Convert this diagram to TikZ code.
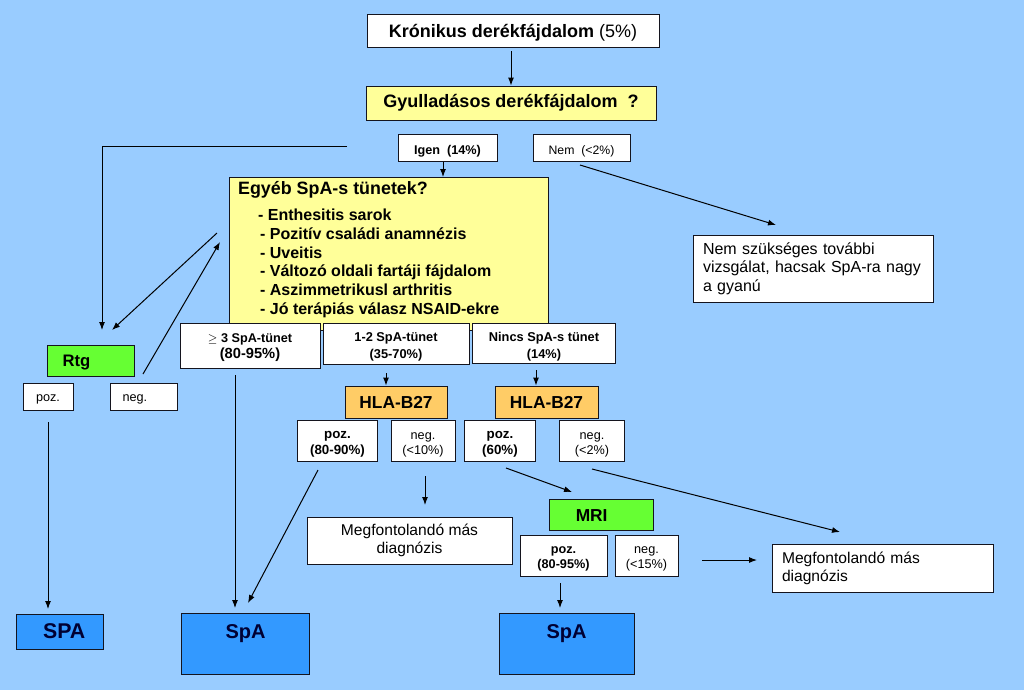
\documentclass[tikz,border=0pt]{standalone}
\usepackage{fontspec}
\setmainfont{Liberation Sans}
\usetikzlibrary{arrows.meta}
\definecolor{bgblue}{RGB}{153,204,255}
\definecolor{paleyellow}{RGB}{255,255,153}
\definecolor{hlaorange}{RGB}{255,204,102}
\definecolor{mrigreen}{RGB}{102,255,51}
\definecolor{spablue}{RGB}{51,153,255}
\definecolor{navy}{RGB}{0,0,51}
\definecolor{edge}{RGB}{20,20,30}
\tikzset{
  box/.style={draw=edge, line width=0.7pt, fill=white, inner sep=1pt, align=center},
  yel/.style={box, fill=paleyellow},
  ora/.style={box, fill=hlaorange},
  grn/.style={box, fill=mrigreen},
  blu/.style={box, fill=spablue, text=navy},
  arr/.style={draw=black, line width=0.75pt, -{Latex[length=6pt,width=4.5pt]}},
  spalbl/.style={anchor=north, inner sep=0pt, yshift=-9pt, text=navy, font=\fontsize{15pt}{17pt}\selectfont\bfseries},
  hrow/.style={text height=21pt, text depth=0pt, font=\fontsize{9.5pt}{11.25pt}\selectfont}
}
\begin{document}
\begin{tikzpicture}[x=0.75pt,y=-0.75pt]
\fill[bgblue] (0,0) rectangle (1024,690);
\useasboundingbox (0,0) rectangle (1024,690);

% top
\node[box, minimum width=219pt, minimum height=24.75pt, text height=9.8pt, text depth=0pt, font=\fontsize{13.5pt}{15pt}\selectfont] (kron) at (513,30.5) {\textbf{Krónikus derékfájdalom} (5\%)};
\node[yel, minimum width=217.5pt, minimum height=25.5pt, font=\fontsize{13.5pt}{15pt}\selectfont\bfseries] (gyul) at (511,103) {Gyulladásos derékfájdalom \ ?};
\node[box, minimum width=74.25pt, minimum height=20.25pt, text height=9.8pt, text depth=0pt, font=\fontsize{9.5pt}{10pt}\selectfont\bfseries] (igen) at (447.5,147.5) {Igen \ (14\%)};
\node[box, minimum width=72.75pt, minimum height=20.25pt, text height=9.8pt, text depth=0pt, font=\fontsize{9.2pt}{10pt}\selectfont] (nem) at (581.5,147.5) {Nem \ (<2\%)};

% big yellow box
\node[yel, anchor=north west, inner sep=0pt, align=left] (egyeb) at (229,177) {%
\begin{minipage}[c][115pt][t]{239.25pt}\raggedright
\vspace*{2.75pt}\hspace*{6.5pt}{\fontsize{13.4pt}{15pt}\selectfont\bfseries Egyéb SpA-s tünetek?}\par
\vspace{5.6pt}
\fontsize{12pt}{14.1pt}\selectfont\bfseries
\hspace*{21.5pt}- Enthesitis sarok\par
\hspace*{23pt}- Pozitív családi anamnézis\par
\hspace*{23pt}- Uveitis\par
\hspace*{23pt}- Változó oldali fartáji fájdalom\par
\hspace*{23pt}- Aszimmetrikusl arthritis\par
\hspace*{23pt}- Jó terápiás válasz NSAID-ekre\par
\end{minipage}};

\node[box, minimum height=50.25pt, inner xsep=7.5pt, text width=165pt, align=left, font=\fontsize{12pt}{13.9pt}\selectfont] (nemsz) at (813,268.5) {Nem szükséges további\\vizsgálat, hacsak SpA-ra nagy\\a gyanú};

% left branch
\node[grn, minimum width=65.25pt, minimum height=23.25pt, text height=9pt, text depth=0pt, font=\fontsize{12.5pt}{14pt}\selectfont\bfseries] (rtg) at (90.5,360.5) {Rtg\hspace*{21pt}};
\node[box, minimum width=37.5pt, minimum height=20.25pt, text height=7.5pt, text depth=0pt, font=\fontsize{9.5pt}{10pt}\selectfont] (rpoz) at (48,396.5) {poz.};
\node[box, minimum width=50.25pt, minimum height=20.25pt, text height=7.5pt, text depth=0pt, font=\fontsize{9.5pt}{10pt}\selectfont] (rneg) at (143.5,396.5) {neg.\hspace*{13pt}};
\node[blu, minimum width=65.25pt, minimum height=26.25pt, font=\fontsize{16pt}{17pt}\selectfont\bfseries] (spa1) at (59.5,631.5) {\hspace*{7pt}SPA};

% symptom count boxes
\node[box, minimum width=105pt, minimum height=33.75pt, text height=19.5pt, text depth=0pt, font=\bfseries] (t3) at (250,345.5) {{\fontsize{9.5pt}{13.1pt}\selectfont$\geq$ 3 SpA-tünet}\\{\fontsize{11pt}{13.1pt}\selectfont(80-95\%)}};
\node[box, minimum width=109.5pt, minimum height=30.75pt, text height=22.5pt, text depth=0pt, font=\fontsize{9.6pt}{13.1pt}\selectfont\bfseries] (t12) at (396,343.5) {1-2 SpA-tünet\\(35-70\%)};
\node[box, minimum width=107.25pt, minimum height=30pt, text height=23.25pt, text depth=0pt, font=\fontsize{9.6pt}{13.1pt}\selectfont\bfseries] (t0) at (544,343) {Nincs SpA-s tünet\\(14\%)};

% HLA
\node[ora, minimum width=76.5pt, minimum height=24pt, font=\fontsize{13pt}{15pt}\selectfont\bfseries] (hla1) at (396,402) {HLA-B27};
\node[ora, minimum width=77.25pt, minimum height=24pt, font=\fontsize{13pt}{15pt}\selectfont\bfseries] (hla2) at (546.5,402) {HLA-B27};
\node[box, minimum width=60pt, minimum height=30.75pt, hrow, font=\bfseries] (h1poz) at (337.5,440.5) {poz.\\(80-90\%)};
\node[box, minimum width=48pt, minimum height=30.75pt, hrow] (h1neg) at (423,440.5) {neg.\\(<10\%)};
\node[box, minimum width=53.25pt, minimum height=30.75pt, hrow, font=\bfseries] (h2poz) at (500,440.5) {poz.\\(60\%)};
\node[box, minimum width=48.75pt, minimum height=30.75pt, hrow] (h2neg) at (592,440.5) {neg.\\(<2\%)};

\node[box, minimum width=153.75pt, minimum height=35.25pt, font=\fontsize{11.7pt}{13.5pt}\selectfont] (meg1) at (409.5,540.5) {Megfontolandó más\\diagnózis};

% MRI
\node[grn, minimum width=78pt, minimum height=23.25pt, text height=11.2pt, text depth=0pt, font=\fontsize{13pt}{14pt}\selectfont\bfseries] (mri) at (601,514.5) {MRI\hspace*{14pt}};
\node[box, minimum width=65.25pt, minimum height=30.75pt, text height=18.8pt, text depth=0pt, font=\fontsize{9.5pt}{11.25pt}\selectfont\bfseries] (mpoz) at (563.5,556) {poz.\\(80-95\%)};
\node[box, minimum width=47.25pt, minimum height=30.75pt, text height=18.8pt, text depth=0pt, font=\fontsize{9.5pt}{11.25pt}\selectfont] (mneg) at (646.5,556) {neg.\\(<15\%)};
\node[box, minimum height=36pt, inner xsep=7.5pt, text width=150.75pt, align=left, font=\fontsize{11.7pt}{13.5pt}\selectfont] (meg2) at (882.5,568) {Megfontolandó más\\diagnózis};

% bottom SpA boxes
\node[blu, minimum width=96pt, minimum height=45.75pt, label={[spalbl]north:SpA}] (spa2) at (245.5,643.5) {};
\node[blu, minimum width=101.25pt, minimum height=45.75pt, label={[spalbl]north:SpA}] (spa3) at (566.5,643.5) {};

% free-end coordinates
\coordinate (c0) at (443,162);
\coordinate (c0e) at (443,177);
\coordinate (c1) at (347,146);
\coordinate (c2) at (102,330);
\coordinate (c3) at (217,233);
\coordinate (c4) at (112,330);
\coordinate (c5) at (143,374);
\coordinate (c6) at (220,242);
\coordinate (c7) at (580,165);
\coordinate (c8) at (776,225);
\coordinate (c9) at (235,375);
\coordinate (c9e) at (235,608);
\coordinate (c10) at (386,373);
\coordinate (c11) at (536,370);
\coordinate (c12) at (48,422);
\coordinate (c12e) at (48,609);
\coordinate (c13) at (318,470);
\coordinate (c14) at (248,603);
\coordinate (c15) at (425,476);
\coordinate (c15e) at (425,505);
\coordinate (c16) at (506,468);
\coordinate (c17) at (572,492);
\coordinate (c18) at (592,469);
\coordinate (c19) at (840,532);
\coordinate (c20) at (702,560);
\coordinate (c21) at (757,560);
\coordinate (c22) at (560,583);
\coordinate (c23) at (560,608);

% connectors
\draw[arr, shorten <=3pt] (gyul.north |- kron.south) -- (gyul.north);
\draw[arr] (c0) -- (c0e);
\draw[arr] (c1) -| (c2);
\draw[arr] (c3) -- (c4);
\draw[arr] (c5) -- (c6);
\draw[arr] (c7) -- (c8);
\draw[arr] (c9) -- (c9e);
\draw[arr] (c10) -- (c10 |- hla1.north);
\draw[arr] (c11) -- (c11 |- hla2.north);
\draw[arr] (c12) -- (c12e);
\draw[arr] (c13) -- (c14);
\draw[arr] (c15) -- (c15e);
\draw[arr] (c16) -- (c17);
\draw[arr] (c18) -- (c19);
\draw[arr] (c20) -- (c21);
\draw[arr] (c22) -- (c23);
\end{tikzpicture}
\end{document}
